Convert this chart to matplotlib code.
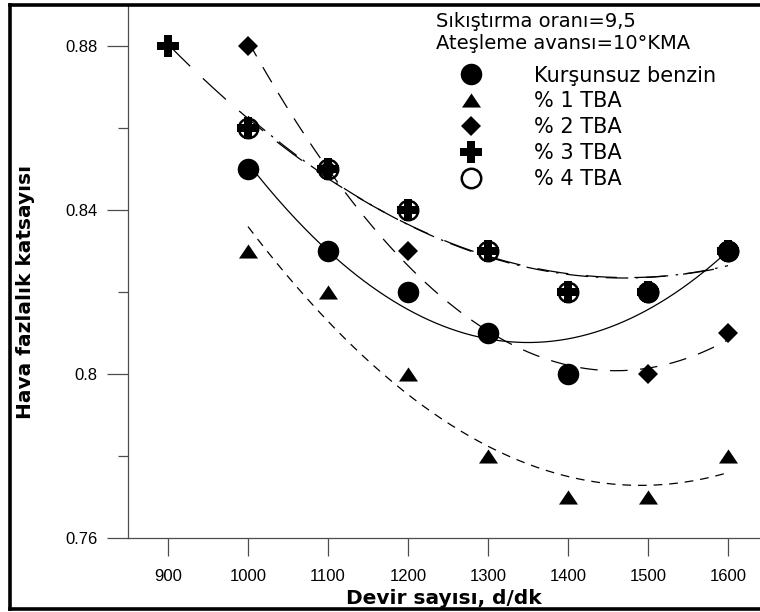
import numpy as np
import matplotlib
matplotlib.use('Agg')
import matplotlib.pyplot as plt
from matplotlib.lines import Line2D

plt.rcParams['font.family'] = ['DejaVu Sans']

# ---------------- data ----------------
rpm = [1000, 1100, 1200, 1300, 1400, 1500, 1600]
rpm_3 = [900, 1000, 1100, 1200, 1300, 1400, 1500, 1600]
kursunsuz = [0.85, 0.83, 0.82, 0.81, 0.80, 0.82, 0.83]
tba1 = [0.83, 0.82, 0.80, 0.78, 0.77, 0.77, 0.78]
tba2 = [0.88, 0.85, 0.83, 0.81, 0.80, 0.80, 0.81]
tba3 = [0.88, 0.86, 0.85, 0.84, 0.83, 0.82, 0.82, 0.83]
tba4 = [0.86, 0.85, 0.84, 0.83, 0.82, 0.82, 0.83]
labels = ['Kurşunsuz benzin', '% 1 TBA', '% 2 TBA', '% 3 TBA', '% 4 TBA']
header = 'Sıkıştırma oranı=9,5\nAteşleme avansı=10°KMA'
xticks = [900, 1000, 1100, 1200, 1300, 1400, 1500, 1600]
yticks = [0.76, 0.80, 0.84, 0.88]
ytick_labels = ['0.76', '0.8', '0.84', '0.88']
yminor = [0.78, 0.82, 0.86]
xlabel = 'Devir sayısı, d/dk'
ylabel = 'Hava fazlalık katsayısı'

# ---------------- figure ----------------
W, H = 760, 612
fig = plt.figure(figsize=(W / 100, H / 100), dpi=100)
ax = fig.add_axes([128 / W, 74 / H, (760 - 128) / W, (538 - 5) / H])
ax.set_xlim(850, 850 + (760 - 128) / 0.8)
ax.set_ylim(0.76, 0.76 + 533 / 4100)

tri = [(-1, -0.74), (1, -0.74), (0, 0.74)]
series = [
    dict(x=rpm, y=kursunsuz, ls='-', m=dict(marker='o', ms=15.5, mfc='k', mec='k', mew=0)),
    dict(x=rpm, y=tba1, ls=(0, (7, 5.5)), m=dict(marker=tri, ms=13.7, mfc='k', mec='k', mew=0)),
    dict(x=rpm, y=tba2, ls=(0, (14, 10)), m=dict(marker='D', ms=10.5, mfc='k', mec='k', mew=0)),
    dict(x=rpm_3, y=tba3, ls=(0, (25, 14)), m=dict(marker='P', ms=15.5, mfc='k', mec='k', mew=0)),
    dict(x=rpm, y=tba4, ls=(0, (18, 6, 2, 6)), m=dict(marker='o', ms=14, mfc='none', mec='k', mew=1.8)),
]

handles = []
for s in series:
    x = np.asarray(s['x'], float)
    y = np.asarray(s['y'], float)
    coef = np.polyfit(x, y, 2)
    xs = np.linspace(x.min(), x.max(), 200)
    ax.plot(xs, np.polyval(coef, xs), color='k', lw=0.9, ls=s['ls'], zorder=2)
for s in series:
    ax.plot(s['x'], s['y'], ls='none', zorder=3, **s['m'])
    handles.append(Line2D([], [], ls='none', **s['m']))

# axes styling
for side in ['top', 'right']:
    ax.spines[side].set_visible(False)
for side in ['left', 'bottom']:
    ax.spines[side].set_color('0.3')
    ax.spines[side].set_linewidth(0.9)

ax.set_xticks(xticks)
ax.set_xticklabels([str(v) for v in xticks])
ax.set_yticks(yticks)
ax.set_yticklabels(ytick_labels)
ax.set_yticks(yminor, minor=True)
ax.tick_params(axis='x', direction='out', length=13, width=0.9, color='0.3',
               labelsize=12, pad=9)
ax.tick_params(axis='y', which='major', direction='out', length=15, width=0.9,
               color='0.3', labelsize=12, pad=7)
ax.tick_params(axis='y', which='minor', direction='out', length=7.5, width=0.9,
               color='0.3')
for lab in ax.get_xticklabels() + ax.get_yticklabels():
    lab.set_family(['Liberation Sans', 'DejaVu Sans'])

ax.set_xlabel(xlabel, fontsize=14.5, fontweight='bold', labelpad=4)
ax.set_ylabel(ylabel, fontsize=14.5, fontweight='bold')
ax.yaxis.set_label_coords(-(128 - 35) / (760 - 128), (538 - 292) / 533)

leg = ax.legend(handles, labels, title=header, loc='upper left',
                bbox_to_anchor=(436 / W, 1 - 12 / H), bbox_transform=fig.transFigure,
                frameon=False, fontsize=15, title_fontsize=14, numpoints=1,
                handlelength=3.4, handletextpad=1.3, labelspacing=0.28,
                borderpad=0, borderaxespad=0, alignment='left')
leg._legend_box.sep = 9

# outer frame (top, left, bottom)
frame_kw = dict(color='k', lw=2.6, transform=fig.transFigure, zorder=10,
                solid_capstyle='projecting')
fig.add_artist(Line2D([10 / W, 1.0], [1 - 5 / H, 1 - 5 / H], **frame_kw))
fig.add_artist(Line2D([10 / W, 10 / W], [3 / H, 1 - 5 / H], **frame_kw))
fig.add_artist(Line2D([10 / W, 1.0], [3 / H, 3 / H], **frame_kw))

fig.savefig('out.png', dpi=100)
